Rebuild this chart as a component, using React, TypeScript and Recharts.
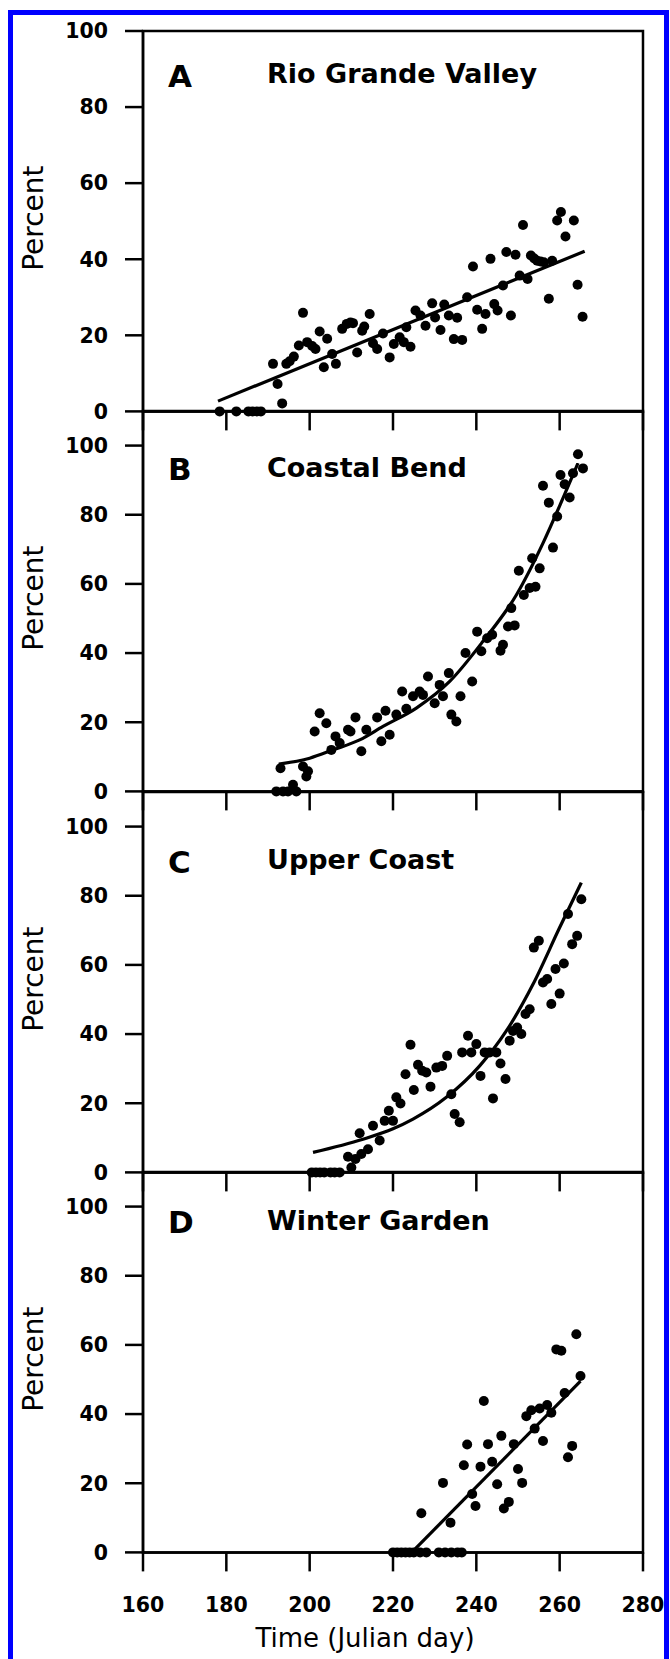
import React from "react";
import { ComposedChart, XAxis, YAxis, Scatter, Line, ReferenceArea } from "recharts";

// axis ticks
const dayTicks = [160, 180, 200, 220, 240, 260, 280];
const pctTicks = [0, 20, 40, 60, 80, 100];

// A - Rio Grande Valley  [julian day, percent]
const rgvPoints = [
	[178.4, 0], [182.4, 0], [185.3, 0], [186.3, 0], [187.3, 0], [188.3, 0],
	[191.2, 12.5], [192.3, 7.2], [193.4, 2.1], [194.4, 12.5], [195.2, 13.2], [196.2, 14.4],
	[197.4, 17.3], [198.4, 25.9], [199.4, 18.2], [200.6, 17.2], [201.4, 16.4], [202.4, 21.0],
	[203.4, 11.6], [204.2, 19.1], [205.4, 15.1], [206.3, 12.5], [207.8, 21.7], [208.9, 23.0],
	[209.8, 23.4], [210.4, 23.2], [211.4, 15.5], [212.6, 21.2], [213.1, 22.3], [214.4, 25.6],
	[215.2, 17.9], [216.2, 16.4], [217.6, 20.5], [219.2, 14.2], [220.2, 17.7], [221.6, 19.5],
	[222.6, 18.2], [223.2, 22.1], [224.2, 17.0], [225.4, 26.5], [226.6, 25.2], [227.8, 22.5],
	[229.4, 28.4], [230.1, 24.7], [231.4, 21.4], [232.3, 28.1], [233.4, 25.2], [234.6, 19.0],
	[235.4, 24.6], [236.6, 18.8], [237.8, 30.0], [239.2, 38.1], [240.2, 26.7], [241.4, 21.7],
	[242.2, 25.6], [243.4, 40.1], [244.3, 28.2], [245.1, 26.5], [246.4, 33.1], [247.2, 41.9],
	[248.3, 25.2], [249.4, 41.2], [250.4, 35.7], [251.2, 49.0], [252.3, 34.8], [253.1, 41.0],
	[253.9, 40.2], [254.6, 39.6], [255.4, 39.4], [256.2, 39.2], [257.4, 29.6], [258.2, 39.6],
	[259.4, 50.2], [260.3, 52.4], [261.4, 46.0], [263.4, 50.2], [264.3, 33.3], [265.5, 24.9],
];
const rgvFit = [[178, 2.7], [266, 42.1]];

// B - Coastal Bend
const cbPoints = [
	[192, 0], [193.6, 0], [194.8, 0], [196, 1.9], [196.8, 0], [193, 6.7], [198.4, 7.2],
	[199.2, 4.3], [199.6, 5.8], [201.2, 17.3], [202.4, 22.6], [204, 19.7], [205.2, 12.0],
	[206.2, 15.9], [207.2, 14.0], [209.2, 17.8], [209.8, 17.3], [211, 21.4], [212.4, 11.6],
	[213.6, 17.8], [216.2, 21.4], [217.2, 14.5], [218.2, 23.3], [219.2, 16.4], [220.8, 22.2],
	[222.2, 28.9], [223.2, 23.9], [224.8, 27.5], [226.4, 28.9], [227.2, 27.9], [228.4, 33.2],
	[230, 25.5], [231.2, 30.8], [232, 27.5], [233.4, 34.2], [234, 22.2], [235.2, 20.2],
	[236.2, 27.5], [237.4, 40.0], [239, 31.8], [240.2, 46.2], [241.2, 40.5], [242.6, 44.3],
	[243.8, 45.3], [245.8, 40.7], [246.4, 42.4], [247.6, 47.7], [248.4, 53.0], [249.2, 48.0],
	[250.2, 63.8], [251.4, 56.8], [252.8, 58.8], [253.4, 67.4], [254.2, 59.2], [255.2, 64.5],
	[256, 88.4], [257.4, 83.5], [258.4, 70.5], [259.4, 79.5], [260.2, 91.5], [261.2, 88.8],
	[262.4, 85.0], [263.2, 92.0], [264.4, 97.5], [265.6, 93.4],
];
const cbFit = [
	[192.6, 7.9], [200, 9.6], [205.6, 12], [212, 14.9], [217.6, 18.8], [225.6, 24.1],
	[233.6, 31.8], [241.6, 43.4], [249.6, 56.8], [256, 71.8], [260.8, 84.8], [264.4, 94.9],
];

// C - Upper Coast
const ucPoints = [
	[200.5, 0], [201.5, 0], [202.5, 0], [203.5, 0], [205, 0], [206, 0], [207.2, 0],
	[209.2, 4.5], [210, 1.4], [211, 3.9], [212, 11.3], [212.4, 5.3], [214, 6.7], [215.2, 13.5],
	[216.8, 9.2], [218, 14.9], [219, 17.8], [220, 14.9], [220.8, 21.7], [221.8, 19.9],
	[223, 28.4], [224.2, 36.9], [225, 23.8], [226, 31.1], [227, 29.4], [228, 28.9],
	[229, 24.8], [230.4, 30.3], [231.8, 30.8], [233, 33.7], [234, 22.6], [234.8, 16.9],
	[236, 14.5], [236.6, 34.7], [238, 39.5], [238.8, 34.7], [240, 37.1], [241, 27.9],
	[242, 34.7], [243.2, 34.7], [244, 21.4], [244.8, 34.7], [245.8, 31.5], [247, 27.0],
	[248, 38.1], [248.8, 40.9], [249.8, 41.9], [250.8, 40.0], [251.8, 45.8], [252.8, 47.2],
	[253.8, 65.0], [255, 67.0], [256, 54.9], [257, 55.9], [258, 48.7], [259, 58.8],
	[260, 51.7], [261, 60.4], [262, 74.7], [263, 66.0], [264.2, 68.4], [265.2, 79.0],
];
const ucFit = [
	[200.8, 5.8], [212.8, 9.6], [220, 12.6], [224.8, 15.4], [232.8, 21.7], [240.8, 30.8],
	[247.2, 40.9], [253.6, 54.4], [260, 70.8], [265.2, 83.8],
];

// D - Winter Garden
const wgPoints = [
	[220, 0], [221, 0], [222, 0], [223, 0], [224, 0], [225, 0], [226.5, 0], [228, 0],
	[231, 0], [232.5, 0], [234, 0], [235.5, 0], [236.5, 0],
	[226.8, 11.3], [232, 20.1], [233.8, 8.6], [237, 25.2], [237.8, 31.2], [239, 16.9],
	[239.8, 13.4], [241, 24.8], [241.8, 43.8], [242.8, 31.3], [243.8, 26.2], [245, 19.7],
	[246, 33.7], [246.6, 12.7], [247.8, 14.6], [249, 31.3], [250, 24.1], [251, 20.1],
	[252, 39.4], [253.2, 41.1], [254, 35.8], [255.2, 41.6], [256, 32.2], [257, 42.6],
	[258, 40.4], [259.2, 58.7], [260.4, 58.3], [261.2, 46.1], [262, 27.5], [263, 30.8],
	[264, 63.1], [265, 51.0],
];
const wgFit = [[224.5, 0], [265, 49.5]];

const PAD_TOP = 30;
const PLOT_H = 380.4;
const FONT = "DejaVu Sans";

const toPts = (arr: number[][]) => arr.map(([day, pct]) => ({ day, pct }));

function PercentLabel(props: any) {
	const vb = props.viewBox || { y: 0, height: 0 };
	const cy = vb.y + vb.height / 2 - 3;
	return (
		<text x={34} y={cy} transform={`rotate(-90, 34, ${cy})`} textAnchor="middle"
			dominantBaseline="central" fontFamily={FONT} fontSize={28} fill="#000">
			Percent
		</text>
	);
}

function TimeLabel(props: any) {
	const vb = props.viewBox || { y: 0 };
	return (
		<text x={365} y={vb.y + 86} textAnchor="middle" dominantBaseline="central"
			fontFamily={FONT} fontSize={26} fill="#000">
			Time (Julian day)
		</text>
	);
}

const noTick = () => <g />;

const Dot = (props: any) => <circle cx={props.cx} cy={props.cy} r={5} fill="#000" />;

interface PanelProps {
	plotTop: number;
	yMax: number;
	points: number[][];
	fit: number[][];
	last?: boolean;
}

function Panel({ plotTop, yMax, points, fit, last }: PanelProps) {
	const axisH = last ? 110 : 60;
	const line = { stroke: "#000", strokeWidth: 2.5 };
	const tickFont = { fill: "#000", fontSize: 20.5, fontWeight: "bold", fontFamily: FONT };
	return (
		<div style={{ position: "absolute", left: 0, top: plotTop - PAD_TOP }}>
			<ComposedChart width={670} height={PAD_TOP + PLOT_H + axisH}
				margin={{ top: PAD_TOP, right: 27, bottom: 0, left: 0 }}>
				<XAxis dataKey="day" type="number" domain={[160, 280]} ticks={dayTicks} interval={0}
					height={axisH} axisLine={line} tickLine={line} tickSize={19} tickMargin={26}
					tick={last ? tickFont : noTick} label={last ? <TimeLabel /> : undefined} />
				<YAxis type="number" domain={[0, yMax]} ticks={pctTicks} interval={0} width={143}
					axisLine={line} tickLine={line} tickSize={18} tickMargin={17} tick={tickFont}
					label={<PercentLabel />} />
				<ReferenceArea x1={160} x2={280} y1={0} y2={yMax} fill="none" fillOpacity={0}
					stroke="#000" strokeWidth={2.5} ifOverflow="visible" />
				<Line data={toPts(fit)} dataKey="pct" type="monotone" stroke="#000" strokeWidth={3.2}
					dot={false} activeDot={false} isAnimationActive={false} />
				<Scatter data={toPts(points)} dataKey="pct" fill="#000" shape={Dot} isAnimationActive={false} />
			</ComposedChart>
		</div>
	);
}

const titles = [
	{ letter: "A", name: "Rio Grande Valley", letterY: 87, nameY: 83 },
	{ letter: "B", name: "Coastal Bend", letterY: 480, nameY: 477 },
	{ letter: "C", name: "Upper Coast", letterY: 873, nameY: 869 },
	{ letter: "D", name: "Winter Garden", letterY: 1233, nameY: 1230 },
];

export default function App() {
	return (
		<div style={{ position: "absolute", left: 0, top: 0, width: 670, height: 1659, background: "#fff", overflow: "hidden" }}>
			<div style={{ position: "absolute", left: 8, top: 10, width: 651, height: 1700, border: "5px solid #0000ff", borderBottom: "none" }} />
			<Panel plotTop={30.7} yMax={100} points={rgvPoints} fit={rgvFit} />
			<Panel plotTop={30.7 + PLOT_H} yMax={110} points={cbPoints} fit={cbFit} />
			<Panel plotTop={30.7 + PLOT_H * 2} yMax={110} points={ucPoints} fit={ucFit} />
			<Panel plotTop={30.7 + PLOT_H * 3} yMax={110} points={wgPoints} fit={wgFit} last />
			<svg width={670} height={1659} style={{ position: "absolute", left: 0, top: 0, pointerEvents: "none" }}>
				{titles.map((t) => (
					<g key={t.letter} fontFamily={FONT} fontWeight="bold" fill="#000">
						<text x={168} y={t.letterY} fontSize={31}>{t.letter}</text>
						<text x={267} y={t.nameY} fontSize={27}>{t.name}</text>
					</g>
				))}
			</svg>
		</div>
	);
}
